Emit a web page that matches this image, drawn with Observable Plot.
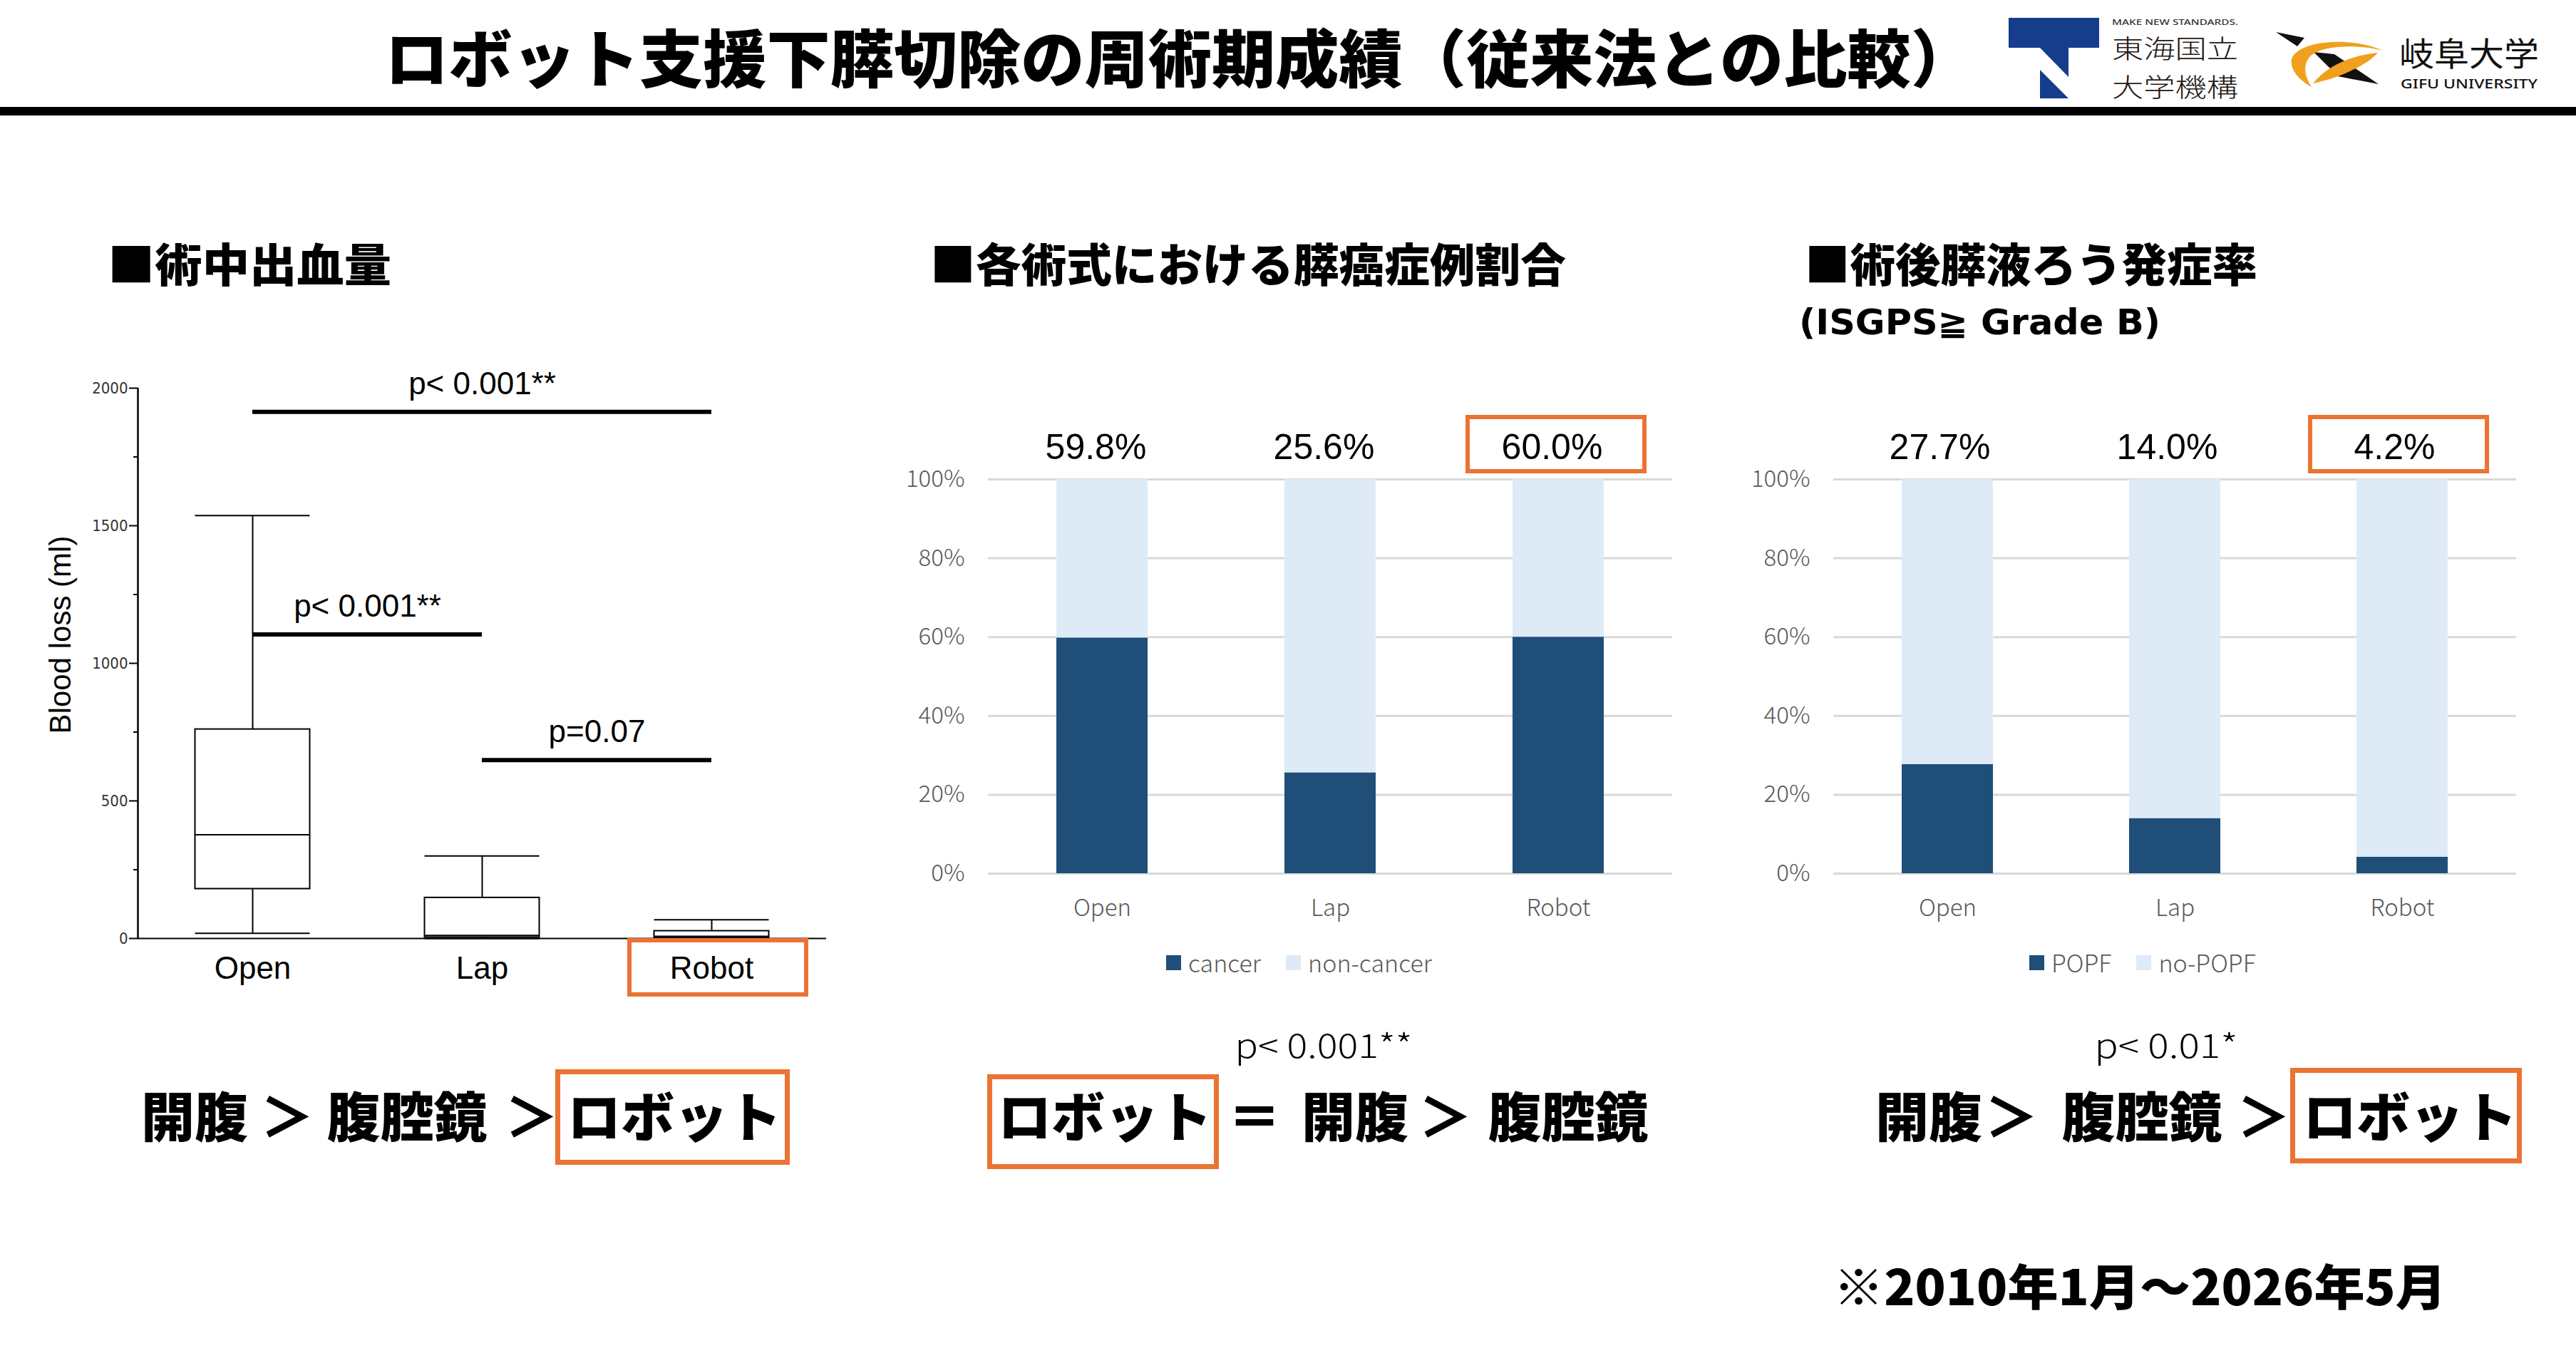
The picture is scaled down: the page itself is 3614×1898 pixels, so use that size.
<!DOCTYPE html>
<html>
<head>
<meta charset="utf-8">
<script src="https://cdn.jsdelivr.net/npm/d3@7"></script>
<script src="https://cdn.jsdelivr.net/npm/@observablehq/plot@0.6"></script>
<style>
  html, body { margin: 0; padding: 0; background: #fff; }
  #page { position: relative; width: 3614px; height: 1898px; overflow: hidden; background: #fff; }
  #page > * { position: absolute; }
  .legend { display: flex; align-items: center; font-family: "Noto Sans CJK JP", sans-serif; font-weight: 300; font-size: 34px; color: #595959; line-height: 40px; white-space: nowrap; }
  .legend .sw { width: 21px; height: 21px; margin-right: 10px; display: inline-block; }
  .legend .item { display: flex; align-items: center; margin-right: 35px; }
</style>
</head>
<body>
<div id="page"></div>
<script>
// ---------------- data ----------------
const methods = ["Open", "Lap", "Robot"];

// intraoperative blood loss (ml): five-number summary per approach
const bloodMin    = [19, 0, 0];
const bloodQ1     = [180, 4, 2];
const bloodMedian = [377, 11, 8];
const bloodQ3     = [760, 148, 27];
const bloodMax    = [1537, 300, 68];
const bloodTicks      = [0, 500, 1000, 1500, 2000];
const bloodMinorTicks = [250, 750, 1250, 1750];

// pairwise comparisons drawn above the boxes
const sigFrom  = ["Open", "Open", "Lap"];
const sigTo    = ["Robot", "Lap", "Robot"];
const sigLevel = [1914, 1105, 648];
const sigLabel = ["p< 0.001**", "p< 0.001**", "p=0.07"];

// share of pancreatic cancer cases (%)
const cancerPct    = [59.8, 25.6, 60.0];
const cancerGroups = ["cancer", "non-cancer"];
// postoperative pancreatic fistula, ISGPS grade B or higher (%)
const popfPct    = [27.7, 14.0, 4.2];
const popfGroups = ["POPF", "no-POPF"];
const pctTicks   = [0, 20, 40, 60, 80, 100];

// ---------------- styles ----------------
const JP = "'Noto Sans CJK JP', sans-serif";
const LATIN = "'Liberation Sans', Arial, sans-serif";
const ORANGE = "#EB7333";
const DARK_BLUE = "#1F4E79";
const LIGHT_BLUE = "#DEEBF7";
const groupColors = [DARK_BLUE, LIGHT_BLUE];

const page = document.getElementById("page");
function place(el, left, top) {
  el.style.left = left + "px";
  el.style.top = top + "px";
  page.appendChild(el);
  return el;
}

// ---------------- blood loss box plot ----------------
const boxRows = methods.map((m, i) => ({
  i, min: bloodMin[i], q1: bloodQ1[i], med: bloodMedian[i], q3: bloodQ3[i], max: bloodMax[i]
}));
const sigRows = sigFrom.map((f, k) => ({
  a: methods.indexOf(f), b: methods.indexOf(sigTo[k]), y: sigLevel[k], label: sigLabel[k]
}));
const half = 0.25;
const B = {left: 0, top: 450, width: 1250, height: 1000};

const boxChart = Plot.plot({
  width: B.width, height: B.height,
  marginLeft: 193, marginRight: B.width - 1159,
  marginTop: 544 - B.top, marginBottom: B.top + B.height - 1316,
  x: {type: "linear", domain: [-0.5, 2.5], label: null},
  y: {domain: [0, 2000], label: null},
  style: {fontFamily: LATIN, overflow: "visible", background: "transparent", color: "#000"},
  marks: [
    Plot.ruleX(boxRows, {x: "i", y1: "min", y2: "max", stroke: "#000", strokeWidth: 2}),
    Plot.ruleY(boxRows, {y: "max", x1: d => d.i - half, x2: d => d.i + half, stroke: "#000", strokeWidth: 2}),
    Plot.ruleY(boxRows, {y: "min", x1: d => d.i - half, x2: d => d.i + half, stroke: "#000", strokeWidth: 2}),
    Plot.rect(boxRows, {x1: d => d.i - half, x2: d => d.i + half, y1: "q1", y2: "q3", fill: "#fff", stroke: "#000", strokeWidth: 2}),
    Plot.ruleY(boxRows, {y: "med", x1: d => d.i - half, x2: d => d.i + half, stroke: "#000", strokeWidth: 2}),
    // axis lines
    Plot.ruleX([-0.5], {y1: 0, y2: 2000, stroke: "#000", strokeWidth: 2.5}),
    Plot.ruleY([0], {x1: () => -0.5, x2: () => 2.5, stroke: "#000", strokeWidth: 2}),
    Plot.axisY({ticks: bloodTicks, tickSize: 12, tickPadding: 2, tickFormat: d => String(d),
      fontSize: 22, fontFamily: "'DejaVu Sans Condensed', 'DejaVu Sans', sans-serif", fill: "#333", stroke: "#000", strokeWidth: 2}),
    Plot.axisY({ticks: bloodMinorTicks, tickSize: 6, tickFormat: () => "", stroke: "#000", strokeWidth: 2}),
    Plot.axisX({ticks: [0, 1, 2], tickFormat: i => methods[i], tickSize: 0, tickPadding: 25, fontSize: 44, fill: "#000"}),
    // significance bars
    Plot.ruleY(sigRows, {y: "y", x1: "a", x2: "b", stroke: "#000", strokeWidth: 6}),
    Plot.text(sigRows, {x: d => (d.a + d.b) / 2, y: "y", text: "label", dy: -39, fontSize: 44, fill: "#000"}),
    Plot.text(["Blood loss (ml)"], {frameAnchor: "left", textAnchor: "middle", rotate: -90, dx: -108, dy: -40, fontSize: 42, fill: "#000"})
  ]
});
place(boxChart, B.left, B.top);

// ---------------- stacked percentage bars ----------------
function stackedChart(pct, groups, box) {
  const rows = methods.flatMap((m, i) => [
    {m, g: groups[0], v: pct[i]},
    {m, g: groups[1], v: 100 - pct[i]}
  ]);
  return Plot.plot({
    width: box.width, height: box.height,
    marginLeft: box.frameLeft - box.left, marginRight: box.left + box.width - box.frameRight,
    marginTop: 672 - box.top, marginBottom: box.top + box.height - 1225,
    x: {domain: methods, paddingInner: 0.6, paddingOuter: 0.3, label: null},
    y: {domain: [0, 100], label: null},
    color: {domain: groups, range: groupColors},
    style: {fontFamily: JP, overflow: "visible", background: "transparent"},
    marks: [
      Plot.ruleY(pctTicks, {stroke: "#D9D9D9", strokeWidth: 3}),
      Plot.barY(rows, {x: "m", y: "v", fill: "g"}),
      Plot.axisY({ticks: pctTicks, tickFormat: d => d + "%", tickSize: 0, tickPadding: 33,
        fontSize: 33, fontWeight: 300, fill: "#595959"}),
      Plot.axisX({tickSize: 0, tickPadding: 36, fontSize: 33, fontWeight: 300, fill: "#595959"}),
      Plot.text(methods, {x: d => d, y: () => 100, text: (d, i) => pct[i].toFixed(1) + "%",
        dy: -45, dx: box.labelDx, fontSize: 50, fontFamily: LATIN, fill: "#000"})
    ]
  });
}

function legendBox(groups, left, top) {
  const div = document.createElement("div");
  div.className = "legend";
  groups.forEach((g, k) => {
    const item = document.createElement("span");
    item.className = "item";
    const sw = document.createElement("span");
    sw.className = "sw";
    sw.style.background = groupColors[k];
    const tx = document.createElement("span");
    tx.textContent = g;
    item.appendChild(sw);
    item.appendChild(tx);
    div.appendChild(item);
  });
  return place(div, left, top);
}

const M = {left: 1250, top: 480, width: 1150, height: 950, frameLeft: 1386, frameRight: 2346, labelDx: -9};
place(stackedChart(cancerPct, cancerGroups, M), M.left, M.top);
legendBox(cancerGroups, 1636, 1330);

const R = {left: 2450, top: 480, width: 1150, height: 950, frameLeft: 2572, frameRight: 3530, labelDx: -11};
place(stackedChart(popfPct, popfGroups, R), R.left, R.top);
legendBox(popfGroups, 2847, 1330);

// ---------------- headings, logos, conclusions ----------------
const svg = d3.select(page).append("svg")
  .attr("width", 3614).attr("height", 1898)
  .style("left", "0px").style("top", "0px");

function txt(x, y, s, o = {}) {
  const t = svg.append("text")
    .attr("x", x).attr("y", y)
    .attr("font-family", o.family || JP)
    .attr("font-size", o.size || 40)
    .attr("font-weight", o.weight == null ? 900 : o.weight)
    .attr("text-anchor", o.anchor || "start")
    .attr("dominant-baseline", "central")
    .attr("fill", o.fill || "#000")
    .text(s);
  if (o.length) t.attr("textLength", o.length).attr("lengthAdjust", "spacingAndGlyphs");
  return t;
}
function frame(x, y, w, h, sw) {
  svg.append("rect").attr("x", x).attr("y", y).attr("width", w).attr("height", h)
    .attr("fill", "none").attr("stroke", ORANGE).attr("stroke-width", sw);
}

// title and rule
txt(540, 76, "ロボット支援下膵切除の周術期成績（従来法との比較）", {size: 88, length: 2230});
svg.append("rect").attr("x", 0).attr("y", 150).attr("width", 3614).attr("height", 12).attr("fill", "#000");

// Tokai National Higher Education and Research System mark
const NAVY = "#163C8C";
svg.append("rect").attr("x", 2818).attr("y", 25).attr("width", 127).attr("height", 42).attr("fill", NAVY);
svg.append("polygon").attr("points", "2862,67 2902,67 2902,108").attr("fill", NAVY);
svg.append("polygon").attr("points", "2862,98 2862,138 2902,138").attr("fill", NAVY);
txt(2963, 31, "MAKE NEW STANDARDS.", {family: "'Noto Sans', sans-serif", size: 10, weight: 500, fill: "#333", length: 177});
txt(2963, 66, "東海国立", {size: 36, weight: 300, fill: "#231815", length: 177});
txt(2963, 120, "大学機構", {size: 36, weight: 300, fill: "#231815", length: 177});

// Gifu University mark
const GOLD = "#F0A01C";
svg.append("polygon").attr("points", "3193,45 3233,53 3223,65").attr("fill", "#111");
svg.append("polygon").attr("points", "3246,73 3275,76 3337,118 3280,107").attr("fill", "#111");
svg.append("path").attr("d", "M3343,71 C3297,50 3223,57 3215,83 C3212,100 3230,115 3243,122 C3233,107 3230,90 3242,78 C3260,63 3307,62 3343,71 Z").attr("fill", GOLD);
svg.append("path").attr("d", "M3245,117 C3267,90 3303,77 3336,74 C3320,92 3280,110 3245,117 Z").attr("fill", GOLD);
txt(3366, 72, "岐阜大学", {size: 46, weight: 400, fill: "#111", length: 196});
txt(3368, 117, "GIFU UNIVERSITY", {family: "'Noto Sans', sans-serif", size: 18, weight: 500, fill: "#111", length: 192});

// panel headings
txt(151, 367, "■術中出血量", {size: 64, length: 398});
txt(1305, 367, "■各術式における膵癌症例割合", {size: 64, length: 892});
txt(2532, 367, "■術後膵液ろう発症率", {size: 64, length: 635});
txt(2524, 452, "(ISGPS≧ Grade B)", {family: "'DejaVu Sans', sans-serif", size: 50, weight: 700, length: 507});

// highlight frames inside the charts
frame(883, 1319, 248, 76, 6);
frame(2059, 585, 248, 76, 6);
frame(3241, 585, 248, 76, 6);

// conclusions under each panel
const CY = 1562, CS = 75;
txt(273, CY, "開腹", {size: CS, anchor: "middle"});
txt(403, CY, "＞", {size: CS, anchor: "middle"});
txt(571, CY, "腹腔鏡", {size: CS, anchor: "middle"});
txt(746, CY, "＞", {size: CS, anchor: "middle"});
txt(946, CY, "ロボット", {size: CS, anchor: "middle"});
frame(782.5, 1503.5, 322, 127, 7);

txt(1857, 1464, "p< 0.001**", {size: 46, weight: 300, anchor: "middle", length: 249});
txt(1550, CY, "ロボット", {size: CS, anchor: "middle"});
txt(1760, CY, "＝", {size: CS, anchor: "middle"});
txt(1901, CY, "開腹", {size: CS, anchor: "middle"});
txt(2028, CY, "＞", {size: CS, anchor: "middle"});
txt(2200, CY, "腹腔鏡", {size: CS, anchor: "middle"});
frame(1388.5, 1510.5, 318, 126, 7);

txt(3039, 1464, "p< 0.01*", {size: 46, weight: 300, anchor: "middle", length: 201});
txt(2706, CY, "開腹", {size: CS, anchor: "middle"});
txt(2822, CY, "＞", {size: CS, anchor: "middle"});
txt(3005, CY, "腹腔鏡", {size: CS, anchor: "middle"});
txt(3176, CY, "＞", {size: CS, anchor: "middle"});
txt(3381, CY, "ロボット", {size: CS, anchor: "middle"});
frame(3216.5, 1501.5, 318, 127, 7);

// study period
txt(2572, 1801, "※2010年1月～2026年5月", {size: 68, length: 860});
</script>
</body>
</html>
